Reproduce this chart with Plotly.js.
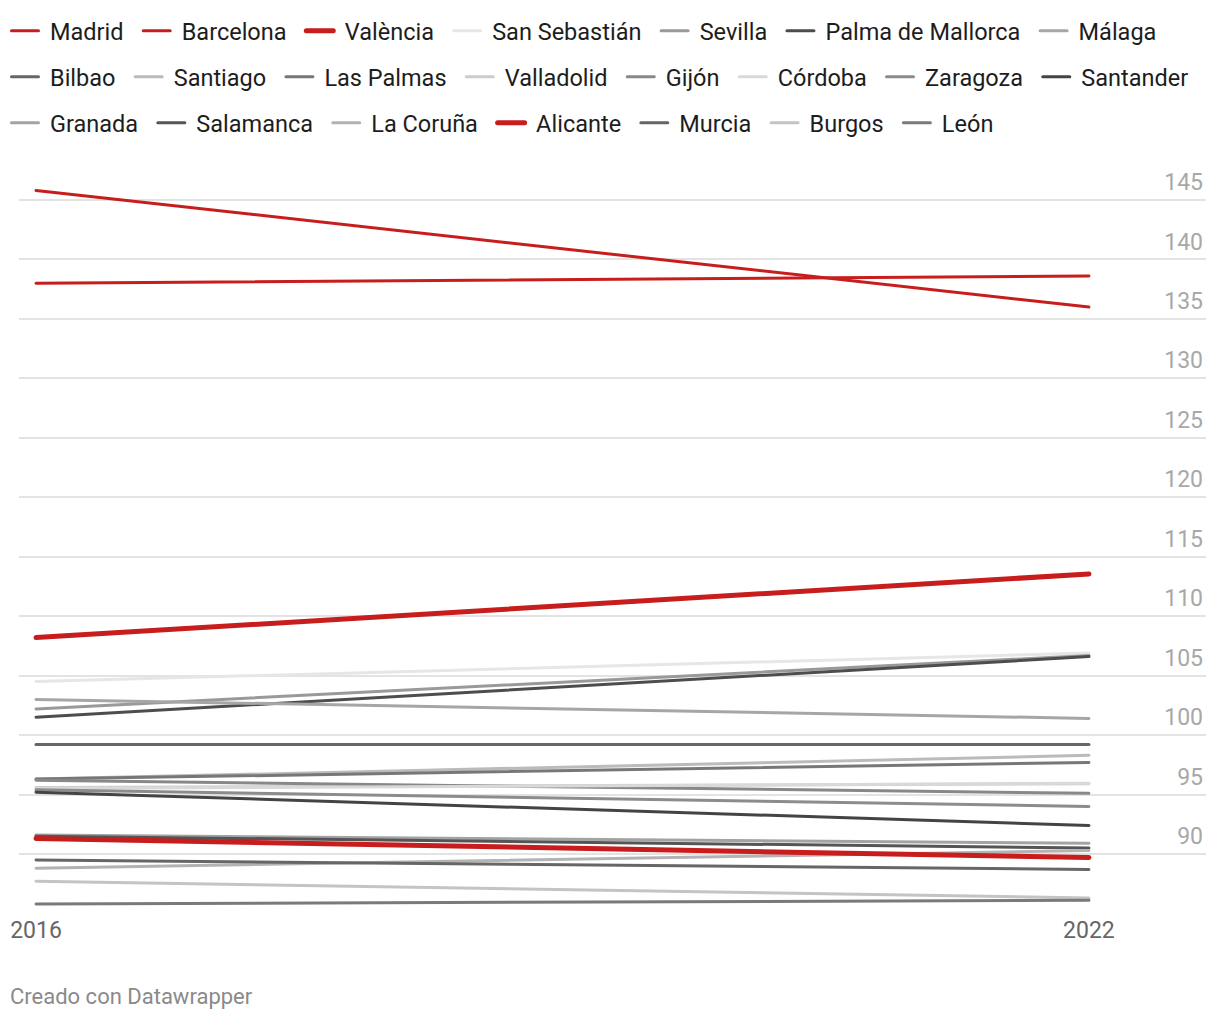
<!DOCTYPE html>
<html>
<head>
<meta charset="utf-8">
<script src="https://cdn.plot.ly/plotly-3.0.1.min.js"></script>
<style>
  html, body { margin: 0; padding: 0; background: #fff; }
  #chart { width: 1220px; height: 1020px; }
  #chart .scatterlayer path.js-line { stroke-linecap: round; }
  #chart .legend path.js-line,
  #chart .legend2 path.js-line,
  #chart .legend3 path.js-line,
  #chart .legendlines path.js-line { stroke-linecap: round; d: path("M6.5,0h27"); }
</style>
</head>
<body>
<div id="chart"></div>
<script>
// ---- Data ----
const years = [2016, 2022];

const cities = [
  "Madrid", "Barcelona", "València", "San Sebastián", "Sevilla", "Palma de Mallorca", "Málaga",
  "Bilbao", "Santiago", "Las Palmas", "Valladolid", "Gijón", "Córdoba", "Zaragoza", "Santander",
  "Granada", "Salamanca", "La Coruña", "Alicante", "Murcia", "Burgos", "León"
];

const values2016 = [
  145.8, 138.0, 108.2, 104.5, 102.2, 101.5, 103.0,
  99.2, 96.3, 96.3, 95.6, 96.2, 95.5, 95.4, 95.2,
  91.6, 91.5, 88.8, 91.3, 89.5, 87.7, 85.8
];

const values2022 = [
  136.0, 138.6, 113.55, 106.9, 106.7, 106.6, 101.4,
  99.2, 98.3, 97.7, 95.9, 95.1, 95.95, 94.0, 92.4,
  90.9, 90.5, 90.3, 89.7, 88.7, 86.3, 86.1
];

const lineColors = [
  "#c71e1d", "#c71e1d", "#c71e1d", "#e6e6e6", "#999999", "#4d4d4d", "#a6a6a6",
  "#666666", "#bbbbbb", "#777777", "#cccccc", "#888888", "#d9d9d9", "#8c8c8c", "#444444",
  "#a3a3a3", "#555555", "#b3b3b3", "#c71e1d", "#666666", "#c4c4c4", "#7a7a7a"
];

const lineWidths = [
  3, 3, 5, 3, 3, 3, 3,
  3, 3, 3, 3, 3, 3, 3, 3,
  3, 3, 3, 5, 3, 3, 3
];

const legendRows = [
  "legend", "legend", "legend", "legend", "legend", "legend", "legend",
  "legend2", "legend2", "legend2", "legend2", "legend2", "legend2", "legend2", "legend2",
  "legend3", "legend3", "legend3", "legend3", "legend3", "legend3", "legend3"
];

const yTicks = [90, 95, 100, 105, 110, 115, 120, 125, 130, 135, 140, 145];

// ---- Traces (grey first, red on top) ----
const traces = cities.map((c, i) => ({
  type: "scatter",
  mode: "lines",
  name: c + "\u00a0\u200a",
  x: years,
  y: [values2016[i], values2022[i]],
  line: { color: lineColors[i], width: lineWidths[i] },
  legend: legendRows[i],
  legendrank: i + 1,
  hoverinfo: "skip"
}));
const order = traces.map((t, i) => i).sort((a, b) => {
  const ra = lineColors[a] === "#c71e1d" ? 1 : 0;
  const rb = lineColors[b] === "#c71e1d" ? 1 : 0;
  return ra - rb || a - b;
});
const data = order.map(i => traces[i]);

const legendBase = {
  orientation: "h",
  xanchor: "left",
  yanchor: "middle",
  x: -0.0118,
  font: { family: "Roboto, sans-serif", size: 23.5, color: "#1d1d1d" },
  itemwidth: 35,
  bgcolor: "rgba(0,0,0,0)",
  traceorder: "normal",
  itemclick: false,
  itemdoubleclick: false
};

const layout = {
  width: 1220,
  height: 1020,
  paper_bgcolor: "#ffffff",
  plot_bgcolor: "#ffffff",
  margin: { l: 19, r: 14, t: 150, b: 110, autoexpand: false },
  font: { family: "Roboto, sans-serif" },
  showlegend: true,
  legend: Object.assign({}, legendBase, { y: 1.15658 }),
  legend2: Object.assign({}, legendBase, { y: 1.09605 }),
  legend3: Object.assign({}, legendBase, { y: 1.03553 }),
  xaxis: {
    range: [2015.903, 2022.667],
    tickvals: years,
    ticktext: years.map(String),
    showgrid: false,
    zeroline: false,
    showline: false,
    ticks: "",
    ticklabelstandoff: 4,
    tickfont: { family: "Roboto, sans-serif", size: 23, color: "#666666" },
    fixedrange: true
  },
  yaxis: {
    range: [85.29, 149.205],
    side: "right",
    tickvals: yTicks,
    ticktext: yTicks.map(String),
    ticklabelposition: "inside",
    ticklabelshift: -18,
    showgrid: true,
    gridcolor: "#e3e3e3",
    gridwidth: 1.5,
    zeroline: false,
    showline: false,
    ticks: "",
    tickfont: { family: "Roboto, sans-serif", size: 23, color: "#a8a8a8" },
    fixedrange: true
  },
  annotations: [{
    text: "Creado con Datawrapper",
    xref: "paper", yref: "paper",
    x: -0.0093, y: -0.11447,
    xanchor: "left", yanchor: "middle",
    showarrow: false,
    font: { family: "Roboto, sans-serif", size: 22, color: "#8a8a8a" }
  }]
};

Plotly.newPlot("chart", data, layout, { displayModeBar: false });
</script>
</body>
</html>
